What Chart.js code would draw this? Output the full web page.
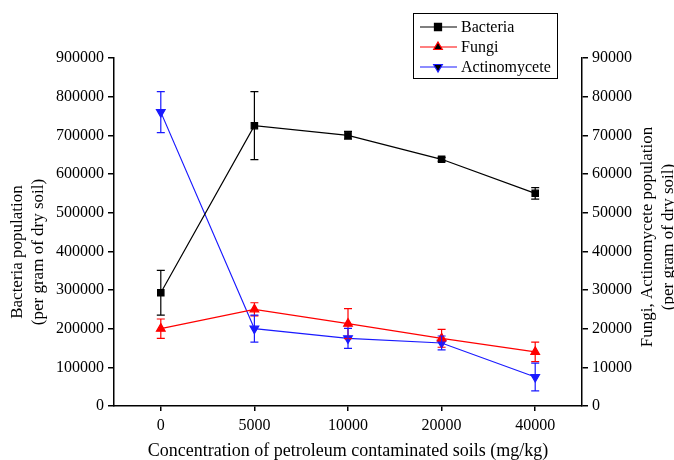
<!DOCTYPE html>
<html>
<head>
<meta charset="utf-8">
<script src="https://cdn.jsdelivr.net/npm/chart.js"></script>
<style>
  html, body { margin: 0; padding: 0; background: #fff; }
  #wrap { width: 674px; height: 460px; }
</style>
</head>
<body>
<div id="wrap"><canvas id="chart" width="674" height="460"></canvas></div>
<script>
const categories = ["0", "5000", "10000", "20000", "40000"];
const bacteria = [293000, 725000, 700000, 638000, 550000];
const bacteriaErr = [58000, 88000, 10000, 5000, 15000];
const fungi = [20000, 25000, 21300, 17500, 14000];
const fungiErr = [2500, 1700, 3900, 2300, 2500];
const actino = [76000, 20000, 17500, 16300, 7500];
const actinoErr = [5300, 3500, 2600, 1800, 3600];

const FONT = "'Liberation Serif', 'Times New Roman', serif";
const errors = [bacteriaErr, fungiErr, actinoErr];

const errorBars = {
    id: "errorBars",
    afterDatasetsDraw(chart) {
        const ctx = chart.ctx;
        chart.data.datasets.forEach((ds, i) => {
            const meta = chart.getDatasetMeta(i);
            const scale = chart.scales[ds.yAxisID];
            ctx.save();
            ctx.strokeStyle = ds.borderColor;
            ctx.lineWidth = 1.2;
            meta.data.forEach((pt, j) => {
                const v = ds.data[j], e = errors[i][j];
                const top = scale.getPixelForValue(v + e);
                const bot = scale.getPixelForValue(v - e);
                ctx.beginPath();
                ctx.moveTo(pt.x, top); ctx.lineTo(pt.x, bot);
                ctx.moveTo(pt.x - 4, top); ctx.lineTo(pt.x + 4, top);
                ctx.moveTo(pt.x - 4, bot); ctx.lineTo(pt.x + 4, bot);
                ctx.stroke();
            });
            ctx.restore();
        });
    }
};

const extras = {
    id: "extras",
    afterDraw(chart) {
        const ctx = chart.ctx;
        const area = chart.chartArea;
        ctx.save();
        ctx.fillStyle = "#000";
        ctx.textAlign = "center";
        ctx.textBaseline = "middle";
        ctx.font = "17px " + FONT;
        // left title
        ctx.save();
        ctx.translate(18, 252);
        ctx.rotate(-Math.PI / 2);
        ctx.fillText("Bacteria population", 0, 0);
        ctx.fillText("(per gram of dry soil)", 0, 21);
        ctx.restore();
        // right title
        ctx.save();
        ctx.translate(648, 237);
        ctx.rotate(-Math.PI / 2);
        ctx.fillText("Fungi, Actinomycete population", 0, 0);
        ctx.fillText("(per gram of dry soil)", 0, 21);
        ctx.restore();
        // x title
        ctx.font = "18px " + FONT;
        ctx.fillText("Concentration of petroleum contaminated soils (mg/kg)", (area.left + area.right) / 2, 451);

        // legend
        ctx.font = "16px " + FONT;
        ctx.strokeStyle = "#000";
        ctx.lineWidth = 1;
        ctx.strokeRect(413.5, 13.5, 144, 65);
        ctx.textAlign = "left";
        chart.data.datasets.forEach((ds, i) => {
            const y = 27 + i * 20;
            ctx.strokeStyle = ds.borderColor;
            ctx.lineWidth = 1.2;
            ctx.beginPath();
            ctx.moveTo(420, y); ctx.lineTo(457, y);
            ctx.stroke();
            Chart.helpers.drawPoint(ctx, {
                pointStyle: ds.pointStyle, radius: 5, rotation: ds.pointRotation || 0, borderWidth: 1
            }, 438, y);
            ctx.fillStyle = "#000";
            ctx.fillText(ds.label, 461, y + 1);
        });
        ctx.restore();
    }
};

const pointDefaults = { borderWidth: 1.2, pointRadius: 5, pointHoverRadius: 5, tension: 0 };

new Chart(document.getElementById("chart"), {
    type: "line",
    data: {
        labels: categories,
        datasets: [
            { label: "Bacteria", data: bacteria, yAxisID: "y", borderColor: "#000", backgroundColor: "#000",
              pointStyle: "rect", pointBackgroundColor: "#000", ...pointDefaults, pointRadius: 4.5 },
            { label: "Fungi", data: fungi, yAxisID: "y2", borderColor: "#ff0000", backgroundColor: "#ff0000",
              pointStyle: "triangle", pointBackgroundColor: "#ff0000", ...pointDefaults },
            { label: "Actinomycete", data: actino, yAxisID: "y2", borderColor: "#1a1aff", backgroundColor: "#1a1aff",
              pointStyle: "triangle", pointRotation: 180, pointBackgroundColor: "#1a1aff", ...pointDefaults }
        ]
    },
    options: {
        responsive: false,
        animation: false,
        layout: { padding: { top: 58, left: 0, right: 0, bottom: 0 } },
        plugins: { legend: { display: false }, tooltip: { enabled: false } },
        scales: {
            x: {
                offset: true,
                grid: { drawOnChartArea: false, drawTicks: true, tickLength: 5, color: "#000", lineWidth: 1.5, offset: false },
                border: { color: "#000", width: 1.5 },
                ticks: { color: "#000", font: { family: FONT, size: 16 }, padding: 5, maxRotation: 0 },
                afterFit(s) { s.height = 54; }
            },
            y: {
                position: "left",
                min: 0, max: 900000,
                grid: { drawOnChartArea: false, drawTicks: true, tickLength: 6, color: "#000", lineWidth: 1.5 },
                border: { color: "#000", width: 1.5 },
                ticks: { stepSize: 100000, color: "#000", font: { family: FONT, size: 16 }, padding: 4,
                         callback: v => String(v) },
                afterFit(s) { s.width = 114; }
            },
            y2: {
                position: "right",
                min: 0, max: 90000,
                grid: { drawOnChartArea: false, drawTicks: true, tickLength: 6, color: "#000", lineWidth: 1.5 },
                border: { color: "#000", width: 1.5 },
                ticks: { stepSize: 10000, color: "#000", font: { family: FONT, size: 16 }, padding: 4,
                         callback: v => String(v) },
                afterFit(s) { s.width = 92; }
            }
        }
    },
    plugins: [errorBars, extras]
});
</script>
</body>
</html>
